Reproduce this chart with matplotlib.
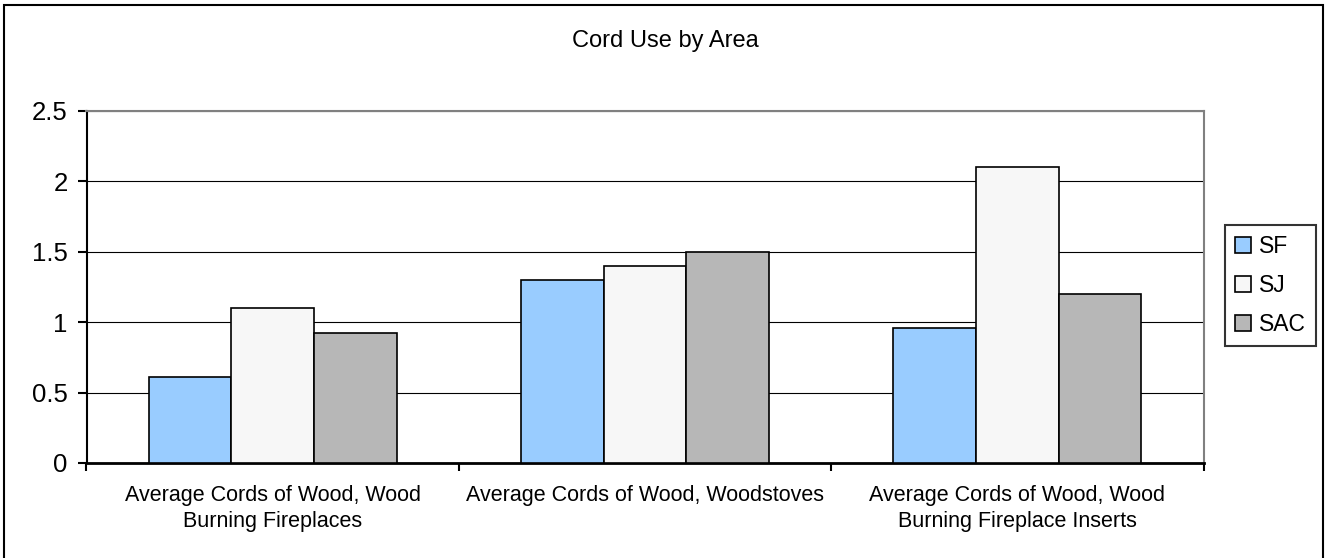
import matplotlib
matplotlib.use("Agg")
import matplotlib.pyplot as plt
import numpy as np
from matplotlib.patches import Rectangle

plt.rcParams['font.family'] = ['Liberation Sans', 'DejaVu Sans']

categories = ["Average Cords of Wood, Wood\nBurning Fireplaces",
              "Average Cords of Wood, Woodstoves",
              "Average Cords of Wood, Wood\nBurning Fireplace Inserts"]
series_names = ["SF", "SJ", "SAC"]
sf = [0.61, 1.30, 0.96]
sj = [1.10, 1.40, 2.10]
sac = [0.92, 1.50, 1.20]
y_ticks = [0, 0.5, 1, 1.5, 2, 2.5]
y_tick_labels = ["0", "0.5", "1", "1.5", "2", "2.5"]
colors = ["#99CCFF", "#F7F7F7", "#B7B7B7"]

W, H = 1326, 558
fig = plt.figure(figsize=(W / 100, H / 100), dpi=100)
ax = fig.add_axes([86.5 / W, 95 / H, 1117 / W, 352 / H])

x = np.arange(len(categories))
bw = 0.222
for i, (vals, name) in enumerate(zip([sf, sj, sac], series_names)):
    ax.bar(x + (i - 1) * bw, vals, width=bw, color=colors[i], edgecolor="black",
           linewidth=1.2, label=name, zorder=3)

ax.set_xlim(-0.5, 2.5)
ax.set_ylim(0, 2.5)
ax.set_yticks(y_ticks)
ax.set_yticklabels(y_tick_labels, fontsize=18.5)
ax.yaxis.grid(True, color="black", linewidth=0.8, zorder=0)
ax.set_axisbelow(True)

ax.set_xticks(x)
ax.set_xticklabels(categories, fontsize=15.5, linespacing=1.3)
ax.tick_params(axis="x", which="major", length=0, pad=16)
ax.set_xticks([-0.5, 0.5, 1.5, 2.5], minor=True)
ax.tick_params(axis="x", which="minor", length=6, width=1.5, direction="out", color="black")
ax.tick_params(axis="y", length=6.5, width=1.5, direction="out", pad=7)

for s in ["top", "right"]:
    ax.spines[s].set_color("#808080")
    ax.spines[s].set_linewidth(1.5)
ax.spines["left"].set_color("black")
ax.spines["left"].set_linewidth(1.5)
ax.spines["bottom"].set_color("black")
ax.spines["bottom"].set_linewidth(2)

fig.text(665 / W, 1 - 47 / H, "Cord Use by Area", ha="center", va="baseline", fontsize=17)

leg = fig.legend(loc="center", bbox_to_anchor=(1270.5 / W, 1 - 285.5 / H),
                 fontsize=16.5, frameon=True, fancybox=False, handlelength=0.7,
                 handleheight=0.7, handletextpad=0.35, labelspacing=0.7,
                 borderpad=0.45, borderaxespad=0)
leg.get_frame().set_edgecolor("black")
leg.get_frame().set_linewidth(1.5)

fig.patches.append(Rectangle((3.5 / W, -0.05), (W - 7) / W, 1.05 - 4.5 / H,
                             transform=fig.transFigure, fill=False,
                             edgecolor="black", linewidth=1.5, zorder=0))

fig.savefig("out.png", dpi=100)
